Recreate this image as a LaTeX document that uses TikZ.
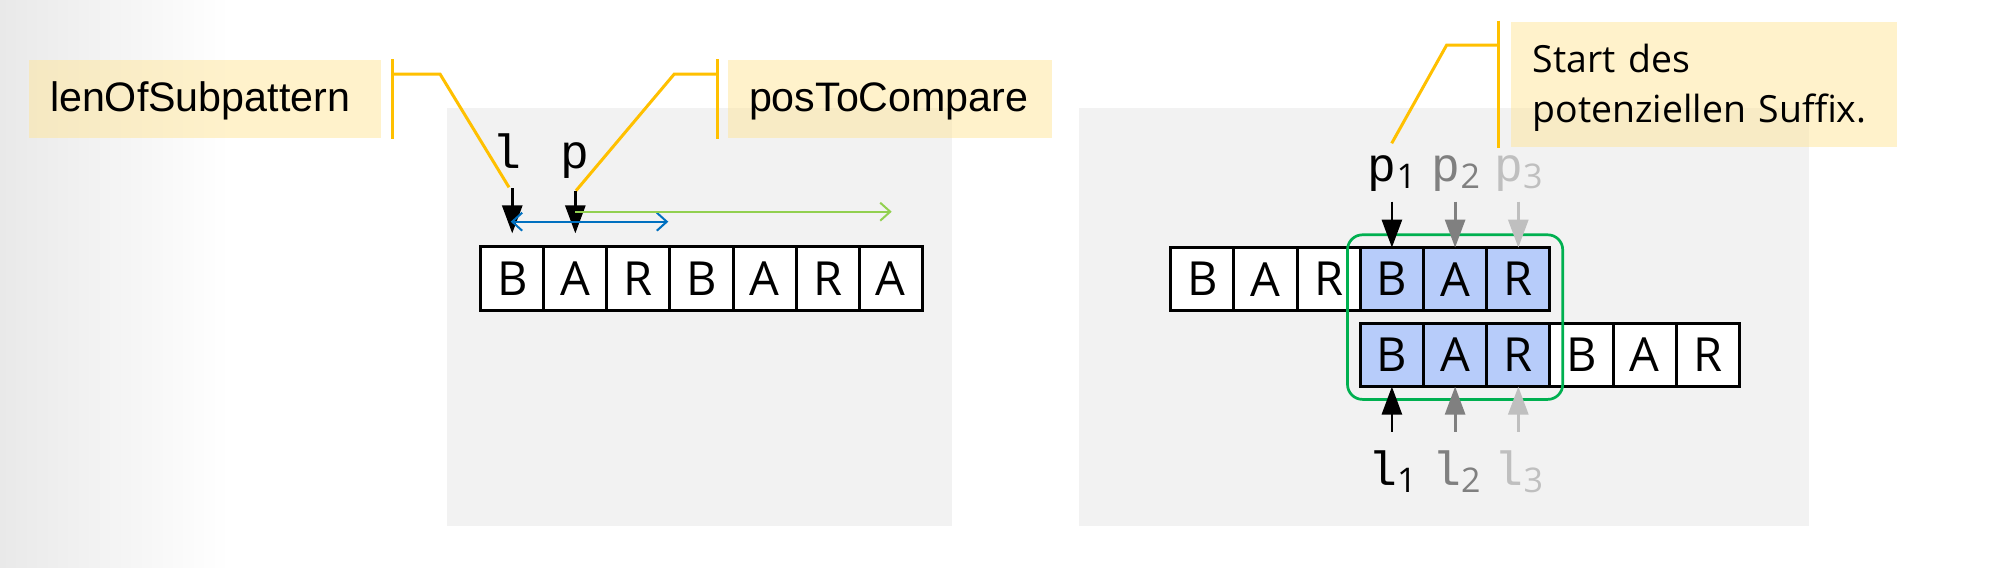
\documentclass[tikz,border=0pt]{standalone}
\usepackage{fontspec}
\setmainfont{Liberation Sans}
\newfontfamily\segoe{Open Sans}
\newfontfamily\monof{Liberation Mono}
\usetikzlibrary{arrows.meta,fit}
\definecolor{bggray}{RGB}{233,233,233}
\definecolor{panelgray}{HTML}{F2F2F2}
\definecolor{calloutfill}{HTML}{FFE699}
\definecolor{calloutline}{HTML}{FFC000}
\definecolor{cellblue}{RGB}{183,204,250}
\definecolor{framegreen}{HTML}{00B050}
\definecolor{arrblue}{HTML}{0070C0}
\definecolor{arrgreen}{HTML}{92D050}
\definecolor{midgray}{HTML}{808080}
\definecolor{palegray}{HTML}{BFBFBF}
\newcommand\mysub[1]{\lower3.6pt\hbox{\segoe\fontsize{17}{18}\selectfont #1}}
\begin{document}
\begin{tikzpicture}[x=0.5pt,y=-0.5pt,
  cell/.style={draw=black, line width=1.5pt, minimum size=31.6pt, inner sep=0pt, outer sep=0pt,
    fill=white, font=\segoe\fontsize{23.5}{26}\selectfont},
  hit/.style={cell, fill=cellblue},
  cbox/.style={fill=calloutfill, fill opacity=0.5, text opacity=1, inner ysep=0pt, inner xsep=10.5pt,
    outer sep=0pt, anchor=north west, align=left},
  cline/.style={draw=calloutline, line width=1.5pt},
  ptr/.style={line width=1.4pt, -{Triangle[length=14pt,width=10pt]}},
  rangearrow/.style={line width=1pt, {Straight Barb[length=5pt,width=9pt]}-{Straight Barb[length=5pt,width=9pt]}},
  onearrow/.style={line width=1pt, -{Straight Barb[length=5pt,width=9pt]}},
  lbl/.style={inner sep=0pt, anchor=base, font=\monof\fontsize{24}{28}\selectfont}]
\useasboundingbox (0,0) rectangle (1999,568);
\fill[white] (0,0) rectangle (1999,568);
\shade[left color=bggray, right color=white] (0,0) rectangle (230,568);
% panels
\fill[panelgray] (447.3,108.3) rectangle (952.3,525.7);
\fill[panelgray] (1079.3,107.7) rectangle (1809.3,525.7);
% callout boxes
\node[cbox, minimum width=176pt, minimum height=39pt, text width=155pt,
  font=\fontsize{20.6}{24}\selectfont] (lenbox) at (29,60) {\rule{0pt}{17.2pt}lenOfSubpattern};
\node[cbox, minimum width=161.85pt, minimum height=39pt, text width=140.85pt,
  font=\fontsize{20.6}{24}\selectfont] (posbox) at (728,60) {\rule{0pt}{17.2pt}posToCompare};
\node[cbox, minimum width=193.15pt, minimum height=62.5pt, text width=171.45pt, inner xsep=10.85pt,
  font=\segoe\fontsize{18.7}{25}\selectfont] (startbox) at (1511,21.7) {\rule{0pt}{18pt}Start des\\potenziellen Suffix.};
% callout lines
\coordinate (c1top) at (392.7,59.3); \coordinate (c1bot) at (392.7,138.7);
\coordinate (c1k) at (392.7,74); \coordinate (c1e) at (440,74); \coordinate (c1t) at (509,187.3);
\draw[cline] (c1top) -- (c1bot);
\draw[cline] (c1k) -- (c1e) -- (c1t);
\coordinate (c2top) at (717.3,59.3); \coordinate (c2bot) at (717.3,138.7);
\coordinate (c2k) at (717.3,74); \coordinate (c2e) at (674.3,74); \coordinate (c2t) at (576,190.7);
\draw[cline] (c2top) -- (c2bot);
\draw[cline] (c2k) -- (c2e) -- (c2t);
\coordinate (c3top) at (1498.3,20.7); \coordinate (c3bot) at (1498.3,147.7);
\coordinate (c3k) at (1498.3,45); \coordinate (c3e) at (1446.7,45); \coordinate (c3t) at (1391.7,143.3);
\draw[cline] (c3top) -- (c3bot);
\draw[cline] (c3k) -- (c3e) -- (c3t);
% left panel cells
\node[cell] (a1) at (512.25,278.4) {B};
\node[cell] (a2) at (575.35,278.4) {A};
\node[cell] (a3) at (638.45,278.4) {R};
\node[cell] (a4) at (701.55,278.4) {B};
\node[cell] (a5) at (764.65,278.4) {A};
\node[cell] (a6) at (827.75,278.4) {R};
\node[cell] (a7) at (890.85,278.4) {A};
% left labels and arrows
\node[lbl] (lenl) at (507,168) {l};
\node[lbl] (posp) at (575,168) {p};
\coordinate (lt) at (512.25,188.3);
\coordinate (pt) at (575.35,191);
\draw[ptr, shorten >=6.7pt] (lt) -- (a1.north);
\draw[ptr, shorten >=6.7pt] (pt) -- (a2.north);
\coordinate (bs) at (510.7,221.7); \coordinate (be) at (668.3,221.7);
\draw[rangearrow, arrblue] (bs) -- (be);
\coordinate (gs) at (575,211.7); \coordinate (ge) at (891.7,211.7);
\draw[onearrow, arrgreen] (gs) -- (ge);
% right panel: upper row
\node[cell] (u1) at (1202.3,279.2) {B};
\node[cell] (u2) at (1265.5,279.2) {A};
\node[cell] (u3) at (1328.7,279.2) {R};
\node[hit] (u4) at (1391.9,279.2) {B};
\node[hit] (u5) at (1455.1,279.2) {A};
\node[hit] (u6) at (1518.3,279.2) {R};
% lower row
\node[hit] (w1) at (1391.9,355) {B};
\node[hit] (w2) at (1455.1,355) {A};
\node[hit] (w3) at (1518.3,355) {R};
\node[cell] (w4) at (1581.5,355) {B};
\node[cell] (w5) at (1644.7,355) {A};
\node[cell] (w6) at (1707.9,355) {R};
% green frame
\node[draw=framegreen, line width=1.35pt, rounded corners=7.5pt, inner sep=6.4pt, fit=(u4)(w3)] (frame) {};
% p pointers
\coordinate (tp1) at (1391.9,201.7);
\coordinate (tp2) at (1455.1,201.7);
\coordinate (tp3) at (1518.3,201.7);
\draw[ptr] (tp1) -- (u4.north);
\draw[ptr, midgray] (tp2) -- (u5.north);
\draw[ptr, palegray] (tp3) -- (u6.north);
\node[lbl] (p1) at (1392,181) {p\mysub{1}};
\node[lbl, text=midgray] (p2) at (1456,181) {p\mysub{2}};
\node[lbl, text=palegray] (p3) at (1518.5,181) {p\mysub{3}};
% l pointers
\coordinate (tl1) at (1391.9,431.7);
\coordinate (tl2) at (1455.1,431.7);
\coordinate (tl3) at (1518.3,431.7);
\draw[ptr] (tl1) -- (w1.south);
\draw[ptr, midgray] (tl2) -- (w2.south);
\draw[ptr, palegray] (tl3) -- (w3.south);
\node[lbl] (l1) at (1392.5,485) {l\mysub{1}};
\node[lbl, text=midgray] (l2) at (1456.5,485) {l\mysub{2}};
\node[lbl, text=palegray] (l3) at (1519,485) {l\mysub{3}};
\end{tikzpicture}
\end{document}
